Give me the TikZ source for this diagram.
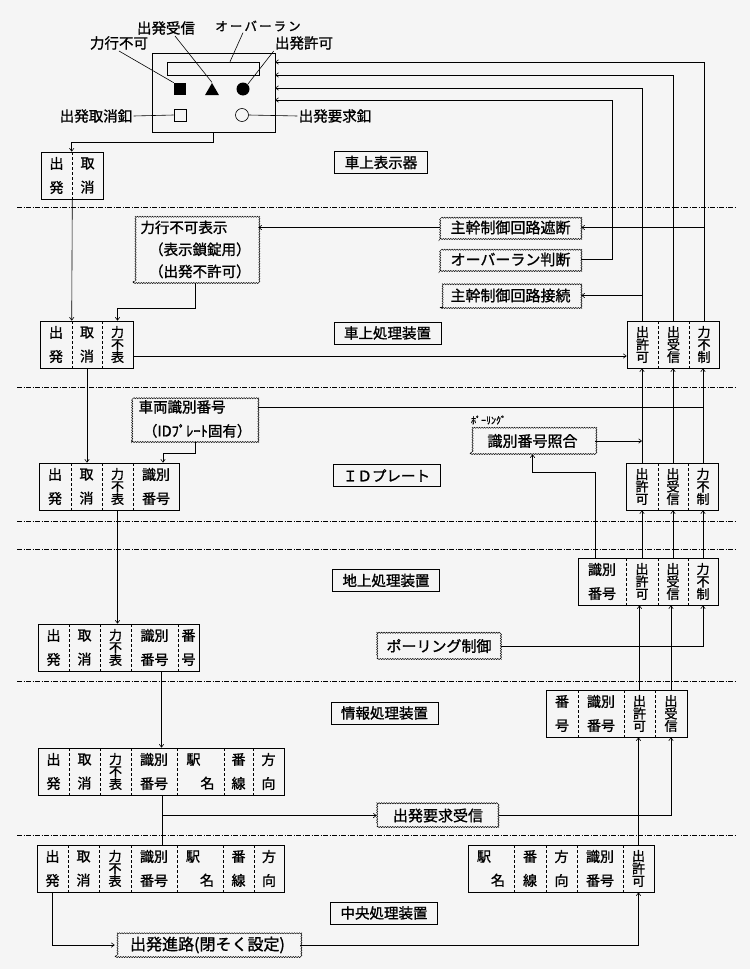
\documentclass[tikz,border=0pt]{standalone}
\usepackage{fontspec}
\setmainfont{Noto Sans CJK JP}[FakeBold=1.2]
\usetikzlibrary{positioning,arrows.meta,shapes.geometric,decorations.pathmorphing}

\definecolor{paper}{HTML}{F5F5F5}

% three characters stacked in a narrow column
\newcommand{\tate}[3]{{\fontsize{13}{12.5}\selectfont\vbox{%
  \hbox to 14pt{\hss#1\hss}\hbox to 14pt{\hss#2\hss}\hbox to 14pt{\hss#3\hss}}}}

% a row of cells: name, left, right, top, cells (x0/x1/text)
\newcommand{\cellrow}[5]{%
  \draw[frame] (#2,#4) rectangle (#3,#4+47);
  \foreach \xa/\xb/\txt [count=\i] in {#5} {
    \node[cell, minimum width={(\xb-\xa)*1pt}] (#1-\i) at ({(\xa+\xb)/2},{#4+23.5}) {\txt};
    \ifnum\i>1 \draw[divider] (\xa,#4) -- (\xa,#4+47); \fi
  }
}

\begin{document}
\begin{tikzpicture}[
x=1pt, y=-1pt,
line width=0.6pt,
>={Straight Barb[length=3pt,width=4.5pt]},
frame/.style={line width=0.9pt},
divider/.style={densely dashed, line width=0.6pt},
cell/.style={inner sep=0pt, minimum height=47pt, align=center, font=\fontsize{14}{24}\selectfont},
layer/.style={draw, line width=0.8pt, inner xsep=10pt, inner ysep=4pt, minimum height=22pt, font=\fontsize{14.5}{14.5}\selectfont},
wavy/.style={draw, line width=0.5pt, decorate, decoration={snake, amplitude=0.6pt, segment length=2.5pt}, inner sep=3pt, font=\fontsize{15}{15}\selectfont},
lbl/.style={inner sep=1pt, font=\fontsize{14.5}{14.5}\selectfont},
layerline/.style={line width=0.7pt, dash pattern=on 5pt off 1.5pt on 1pt off 1.5pt},
arrow/.style={->}
]
\fill[paper] (0,0) rectangle (750,969);
\useasboundingbox (0,0) rectangle (750,969);

% layer borders
\foreach \y in {207,387,521,549,681,835}
  \draw[layerline] (17,\y) -- (735,\y);

% layer names
\node[layer] (lyshow) at (381,162.5) {車上表示器};
\node[layer] (lycar) at (387.5,333) {車上処理装置};
\node[layer] (lyid) at (386.5,475.5) {ＩＤプレート};
\node[layer] (lygnd) at (386,580.5) {地上処理装置};
\node[layer] (lyinf) at (384.5,713) {情報処理装置};
\node[layer] (lycen) at (384,913) {中央処理装置};

% on-board display
\node[draw, frame, minimum width=123pt, minimum height=79pt, inner sep=0pt] (disp) at (213.5,92.5) {};
\node[draw, minimum width=92pt, minimum height=13pt, inner sep=0pt] (bar) at (213,68.5) {};
\node[fill, minimum size=12pt, inner sep=0pt] (sqfull) at (180,89) {};
\node[regular polygon, regular polygon sides=3, fill, minimum size=16pt, inner sep=0pt] (trifull) at (212,91) {};
\node[circle, fill, minimum size=13pt, inner sep=0pt] (dotfull) at (243,89) {};
\node[draw, minimum size=12pt, inner sep=0pt] (sqopen) at (180,115) {};
\node[circle, draw, minimum size=13pt, inner sep=0pt] (dotopen) at (242,115) {};

\node[lbl] (lbnopow) at (119,43) {力行不可};
\node[lbl] (lbrecv) at (166,28) {出発受信};
\node[lbl, font=\fontsize{12.5}{12.5}\selectfont] (lbover) at (258,26) {オ\,ー\,バ\,ー\,ラ\,ン};
\node[lbl] (lbperm) at (304,43) {出発許可};
\node[lbl] (lbcancel) at (96,116) {出発取消釦};
\node[lbl] (lbreq) at (335,116) {出発要求釦};

\draw (lbnopow.south) -- (sqfull.north west);
\draw ([xshift=9pt]lbrecv.south) -- (trifull.north);
\draw ([xshift=-15pt]lbover.south) -- ([xshift=17pt]bar.north);
\draw (lbperm.south west) -- (dotfull.north east);
\draw (lbcancel.east) -- (sqopen.west);
\draw (dotopen.east) -- (lbreq.west);

\coordinate (din1) at (275,62);
\coordinate (din2) at (275,75);
\coordinate (din3) at (275,88);
\coordinate (din4) at (275,100);

% cell rows
\cellrow{cancA}{41}{103}{152}{41/72/{出\\発}, 72/103/{取\\消}}
\cellrow{carL}{40}{133}{321}{40/72/{出\\発}, 72/102/{取\\消}, 102/133/{\tate{力}{不}{表}}}
\cellrow{carR}{627}{719}{321}{627/658/{\tate{出}{許}{可}}, 658/689/{\tate{出}{受}{信}}, 689/719/{\tate{力}{不}{制}}}
\cellrow{idL}{39}{179}{463}{39/71/{出\\発}, 71/102/{取\\消}, 102/133/{\tate{力}{不}{表}}, 133/179/{識別\\番号}}
\cellrow{idR}{626}{718}{463}{626/658/{\tate{出}{許}{可}}, 658/688/{\tate{出}{受}{信}}, 688/718/{\tate{力}{不}{制}}}
\cellrow{gndR}{578}{718}{558}{578/626/{識別\\番号}, 626/658/{\tate{出}{許}{可}}, 658/688/{\tate{出}{受}{信}}, 688/718/{\tate{力}{不}{制}}}
\cellrow{gndL}{38}{199}{624}{38/69/{出\\発}, 69/100/{取\\消}, 100/131/{\tate{力}{不}{表}}, 131/178/{識別\\番号}, 178/199/{番\\号}}
\cellrow{infR}{546}{687}{690}{546/578/{番\\号}, 578/624/{識別\\番号}, 624/655/{\tate{出}{許}{可}}, 655/687/{\tate{出}{受}{信}}}
\cellrow{infL}{38}{284}{748}{38/69/{出\\発}, 69/100/{取\\消}, 100/131/{\tate{力}{不}{表}}, 131/177/{識別\\番号}, 177/224/{駅\hphantom{名}\\\hphantom{駅}名}, 224/253/{番\\線}, 253/284/{方\\向}}
\cellrow{cenL}{37}{284}{845}{37/68/{出\\発}, 68/99/{取\\消}, 99/131/{\tate{力}{不}{表}}, 131/177/{識別\\番号}, 177/223/{駅\hphantom{名}\\\hphantom{駅}名}, 223/254/{番\\線}, 254/284/{方\\向}}
\cellrow{cenR}{468}{654}{845}{468/514/{駅\hphantom{名}\\\hphantom{駅}名}, 514/546/{番\\線}, 546/577/{方\\向}, 577/623/{識別\\番号}, 623/654/{\tate{出}{許}{可}}}

% wavy boxes
\node[wavy, minimum width=125pt, minimum height=67pt, align=left, font=\fontsize{14.5}{22}\selectfont] (nopowbox) at (195.5,249.5) {力行不可表示\\\hspace*{0.6em}（表示鎖錠用）\\\hspace*{0.6em}（出発不許可）};
\node[wavy, minimum width=141pt, minimum height=23pt] (cutbox) at (510.5,227.5) {主幹制御回路遮断};
\node[wavy, minimum width=141pt, minimum height=23pt] (overbox) at (510.5,259.5) {オーバーラン判断};
\node[wavy, minimum width=141pt, minimum height=25pt] (joinbox) at (510.5,295.5) {主幹制御回路接続};
\node[wavy, minimum width=126pt, minimum height=46pt, align=left, font=\fontsize{14.5}{24}\selectfont] (vidbox) at (195,419) {車両識別番号\\\hspace*{0.3em}（IDﾌﾟﾚｰﾄ固有）};
\node[wavy, minimum width=125pt, minimum height=26pt] (matchbox) at (532.5,441) {識別番号照合};
\node[lbl, anchor=south west, font=\fontsize{10}{10}\selectfont] (polllbl) at ([yshift=2pt]matchbox.north west) {ﾎﾟｰﾘﾝｸﾞ};
\node[wavy, minimum width=124pt, minimum height=26pt] (pollbox) at (439,646) {ポーリング制御};
\node[wavy, minimum width=122pt, minimum height=23pt] (reqrxbox) at (438,815.5) {出発要求受信};
\node[wavy, minimum width=185pt, minimum height=24pt, font=\fontsize{16}{16}\selectfont] (routebox) at (207.5,945) {出発進路(閉そく設定)};

% connectors, on-board
\draw[arrow] (disp.south) -- ++(0,10) -| (cancA-2.north west);
\draw[arrow] (cancA-1.south east) -- (carL-2.north west);
\draw[arrow] (nopowbox.south) -- ++(0,25) -| (carL-3.north);
\draw[arrow] (cutbox.west) -- (cutbox.west -| nopowbox.east);
\draw[arrow] (carR-3.north) |- (din1);
\draw[arrow] (carR-3.north) |- (cutbox.east);
\draw[arrow] (carR-2.north) |- (din2);
\draw[arrow] (carR-1.north) |- (din3);
\draw[arrow] (carR-1.north) |- (joinbox.east);
\draw[arrow] (overbox.east) -- ++(31,0) |- (din4);
\coordinate (carout) at ([yshift=-11.5pt]carL-3.east);
\draw[arrow] (carout) -- (carout -| carR-1.west);

% connectors, ID plate
\draw[arrow] (carL-2.south) -- (carL-2.south |- idL-2.north);
\draw[arrow] (vidbox.south) -- ++(0,11) -| ([xshift=7pt]idL-4.north);
\coordinate (vidout) at ([yshift=12pt]vidbox.east);
\draw (vidout) -- (vidout -| idR-3.north);
\foreach \c in {1,2,3}
  \draw[arrow] (idR-\c.north) -- (idR-\c.north |- carR-\c.south);
\draw[arrow] (matchbox.east) -- (matchbox.east -| idR-1.south);

% connectors, ground
\draw[arrow] (idL-3.south) -- (idL-3.south |- gndL-3.north);
\coordinate (idout) at ([xshift=-7pt]gndR-1.north);
\draw[arrow] (idout) -- ++(0,-85) -| (matchbox.south);
\foreach \a/\b in {2/1,3/2,4/3}
  \draw[arrow] (gndR-\a.north) -- (gndR-\a.north |- idR-\b.south);
\draw[arrow] (pollbox.east) -| (gndR-4.south);

% connectors, information and central
\draw[arrow] (infR-3.north) -- (infR-3.north |- gndR-2.south);
\draw[arrow] (infR-4.north) -- (infR-4.north |- gndR-3.south);
\coordinate (g2i) at ([xshift=7pt]gndL-4.south);
\draw[arrow] (g2i) -- (g2i |- infL-4.north);
\coordinate (i2c) at ([xshift=8pt]infL-4.south);
\draw (i2c) -- (i2c |- cenL-4.north);
\draw[arrow] (i2c) |- (reqrxbox.west);
\draw[arrow] (reqrxbox.east) -| (infR-4.south);
\draw[arrow] (cenR-5.north) -- (cenR-5.north |- infR-3.south);
\draw[arrow] (cenL-1.south) |- (routebox.west);
\draw[arrow] (routebox.east) -| (cenR-5.south);

\end{tikzpicture}
\end{document}
